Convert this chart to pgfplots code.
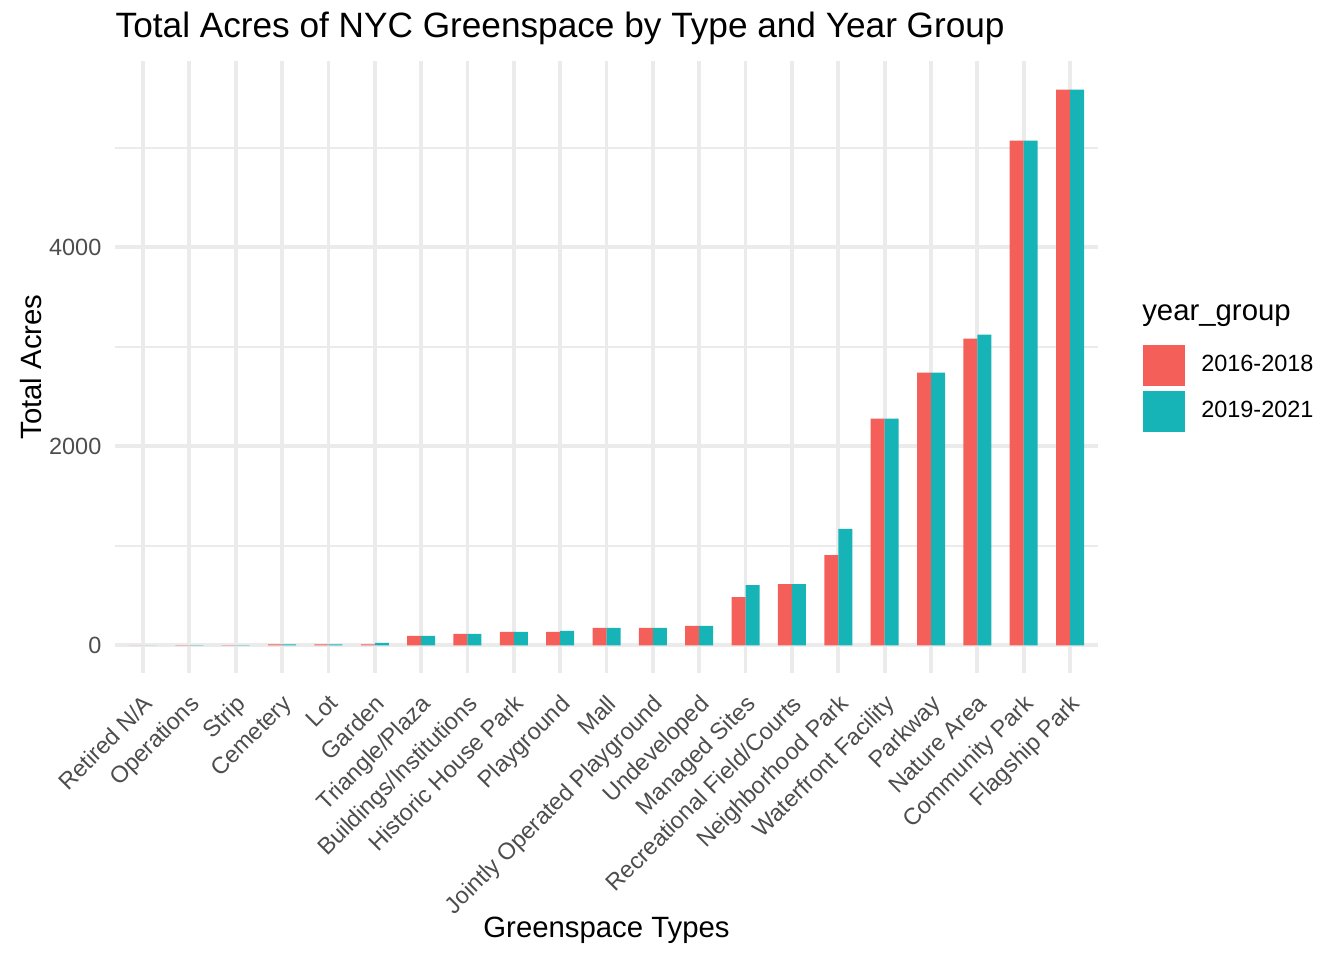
\documentclass[border=0pt]{standalone}
\usepackage{fontspec}
\setmainfont{Liberation Sans}
\usepackage{pgfplots}
\pgfplotsset{compat=1.18}
\definecolor{ggred}{HTML}{F45F5A}
\definecolor{ggteal}{HTML}{17B4B7}
\definecolor{gridgrey}{HTML}{EBEBEB}
\definecolor{grey30}{HTML}{4D4D4D}
\begin{document}
\begin{tikzpicture}
\path[use as bounding box] (0,0) rectangle (504pt,360pt);
\begin{axis}[
    at={(43.2pt,107.6pt)}, anchor=south west,
    scale only axis, clip=false,
    width=368.5pt, height=229.5pt,
    ybar=0pt, bar width=5.25pt,
    xmin=0.4, xmax=21.6,
    ymin=-279.6, ymax=5871.6,
    xtick={1,...,21},
    xticklabels={Retired N/A, Operations, Strip, Cemetery, Lot, Garden, Triangle/Plaza, Buildings/Institutions, Historic House Park, Playground, Mall, Jointly Operated Playground, Undeveloped, Managed Sites, Recreational Field/Courts, Neighborhood Park, Waterfront Facility, Parkway, Nature Area, Community Park, Flagship Park},
    ytick={0,2000,4000},
    minor ytick={1000,3000,5000},
    xmajorgrids, ymajorgrids, yminorgrids,
    major grid style={gridgrey, line width=1.42pt},
    minor grid style={gridgrey, line width=0.71pt},
    axis line style={draw=none},
    major tick length=0pt, minor tick length=0pt,
    tick style={draw=none},
    /pgf/number format/assume math mode=true,
    scaled y ticks=false,
    yticklabel style={/pgf/number format/1000 sep={}, font=\fontsize{8.8}{10}\selectfont, text=grey30, anchor=east, inner sep=0pt, xshift=-5pt},
    xticklabel style={font=\fontsize{8.8}{10}\selectfont, text=grey30, rotate=45, anchor=north east, inner sep=0pt, yshift=-5pt, xshift=-5.5pt},
    xlabel={Greenspace Types},
    ylabel={Total Acres},
    label style={font=\fontsize{11}{13}\selectfont},
    xlabel style={at={(axis description cs:0.5,-0.42)}, anchor=center},
    ylabel style={at={(axis description cs:-0.086,0.5)}, anchor=center},
    legend image code/.code={\fill[#1] (0pt,-7.7pt) rectangle (15.75pt,7.7pt);},
    legend style={draw=none, fill=none, inner sep=0pt, row sep=1.85pt,
        column sep=6pt, font=\fontsize{8.8}{10}\selectfont,
        at={(axis description cs:1.0457,0.5376)}, anchor=north west,
        nodes={inner sep=0pt, anchor=west}},
    legend cell align=left,
]
\addplot[fill=ggred, draw=none] coordinates {
(1,0) (2,2) (3,2) (4,8) (5,8) (6,8) (7,94) (8,114) (9,134) (10,134) (11,174)
(12,174) (13,194) (14,484) (15,615) (16,907) (17,2277) (18,2741) (19,3083) (20,5072) (21,5585)};
\addlegendentry{2016-2018}
\addplot[fill=ggteal, draw=none] coordinates {
(1,0) (2,2) (3,2) (4,8) (5,8) (6,25) (7,94) (8,114) (9,134) (10,144) (11,174)
(12,174) (13,194) (14,605) (15,615) (16,1169) (17,2277) (18,2741) (19,3123) (20,5072) (21,5585)};
\addlegendentry{2019-2021}
\node[anchor=base west, inner sep=0pt, font=\fontsize{13.2}{15}\selectfont] at (axis description cs:0,1.0392) {Total Acres of NYC Greenspace by Type and Year Group};
\node[anchor=west, inner sep=0pt, font=\fontsize{11}{13}\selectfont] at (axis description cs:1.0447,0.5833) {year\_group};
\end{axis}
\end{tikzpicture}
\end{document}
